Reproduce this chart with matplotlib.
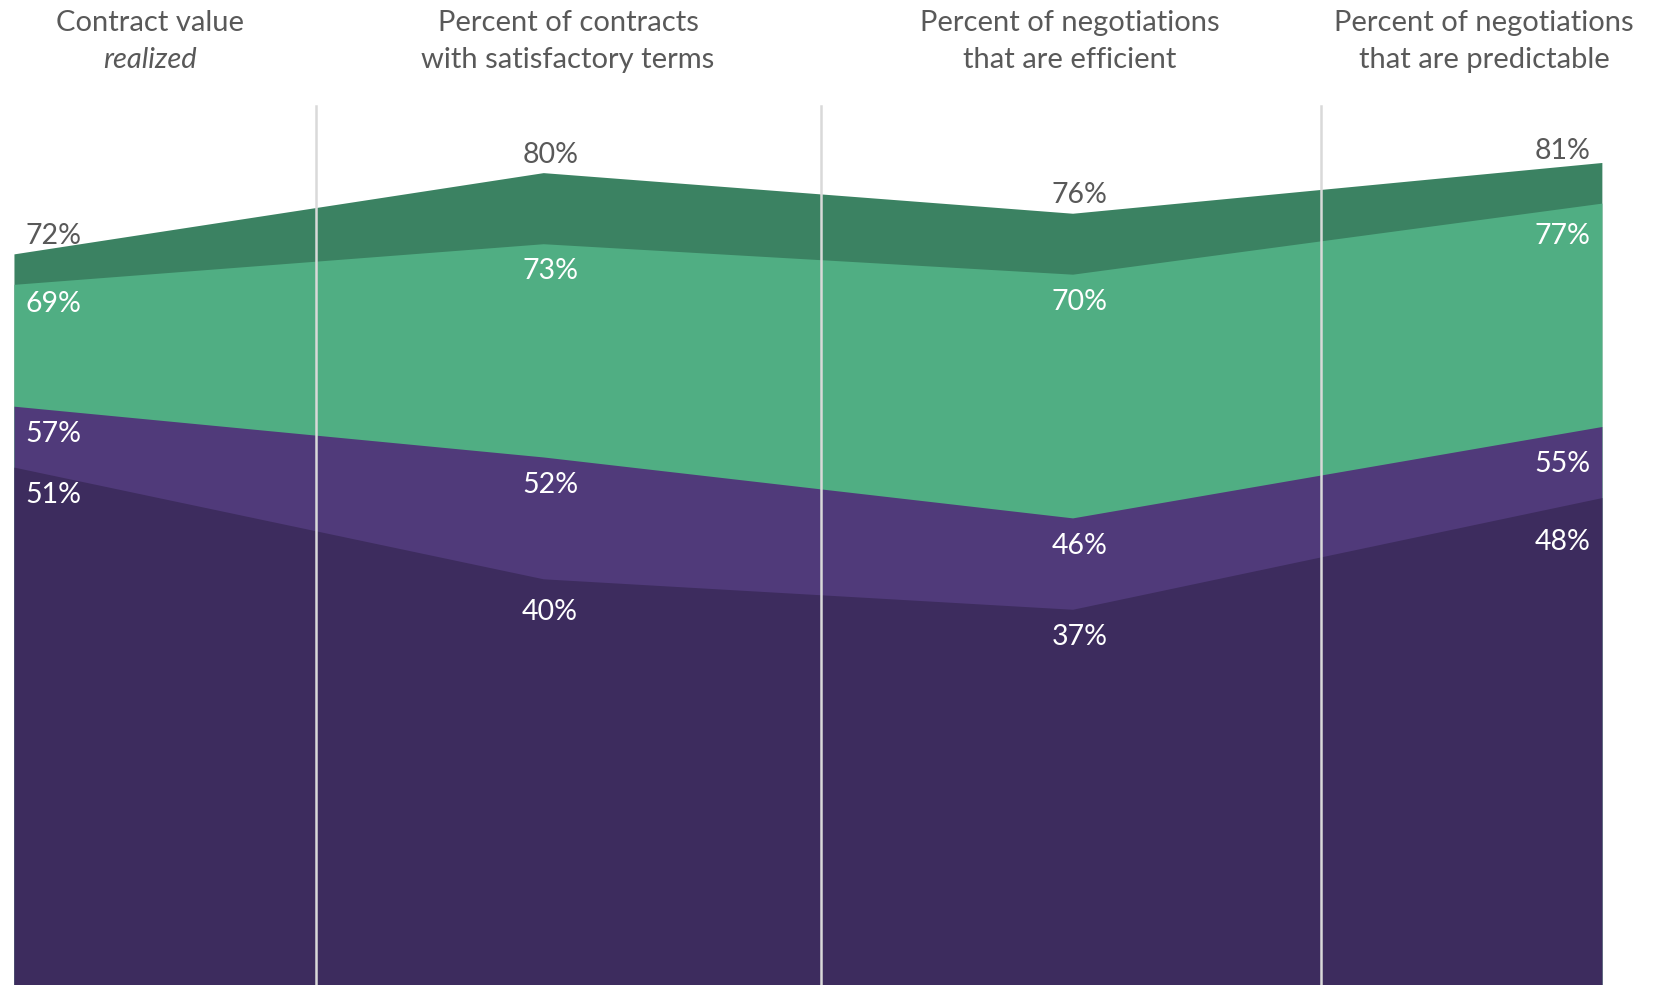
import matplotlib.pyplot as plt
import numpy as np

# Overlapping area chart: four series, each filled down from zero
columns = ["Contract value\nrealized",
           "Percent of contracts\nwith satisfactory terms",
           "Percent of negotiations\nthat are efficient",
           "Percent of negotiations\nthat are predictable"]

top_green = [72, 80, 76, 81]
light_green = [69, 73, 70, 77]
mid_purple = [57, 52, 46, 55]
dark_purple = [51, 40, 37, 48]

series = [top_green, light_green, mid_purple, dark_purple]
colors = ["#3B8262", "#50AE83", "#503A7A", "#3D2C5E"]
label_colors = ["#595959", "white", "white", "white"]

plt.rcParams['font.family'] = ['Lato', 'DejaVu Sans']

fig = plt.figure(figsize=(16.61, 9.85), dpi=100)
ax = fig.add_axes([0.0084, 0.0, 0.956, 1.0])

x = np.arange(len(columns))
for vals, c in zip(series, colors):
    ax.fill_between(x, 0, vals, color=c, linewidth=0, zorder=1)

# separators between columns
for xv in [0.57, 1.525, 2.47]:
    ax.plot([xv, xv], [0, 86.6], color="#D9D9D9", lw=1.8, zorder=2)

ax.set_xlim(0, 3)
ax.set_ylim(0, 97)
ax.axis("off")

# value labels
for i, (vals, lc) in enumerate(zip(series, label_colors)):
    for j, v in enumerate(vals):
        if i == 0:
            dy = 13 if j < 3 else 8
        else:
            dy = -20 if j < 3 else -24
            if j == 0 and i == 1:
                dy = -14
            if j == 1 and i == 3:
                dy = -24
            if j == 3 and i == 3:
                dy = -32
            if j == 3 and i == 2:
                dy = -27
        if j == 0:
            dx, ha = 8, "left"
        elif j == 3:
            dx, ha = -8, "right"
        else:
            dx, ha = 5, "center"
        ax.annotate(f"{v}%", (j, v), xytext=(dx, dy), textcoords="offset points",
                    ha=ha, va="center", fontsize=20.5, color=lc, zorder=3)

# column headers
header_x = [150, 568, 1070, 1484]
for hx, txt in zip(header_x, columns):
    first, second = txt.split("\n")
    fig.text(hx / 1661, 1 - 23 / 985, first, ha="center", va="center",
             fontsize=21, color="#595959")
    fig.text(hx / 1661, 1 - 60 / 985, second, ha="center", va="center",
             fontsize=21, color="#595959",
             style="italic" if second == "realized" else "normal")

fig.savefig("out.png", dpi=100)
